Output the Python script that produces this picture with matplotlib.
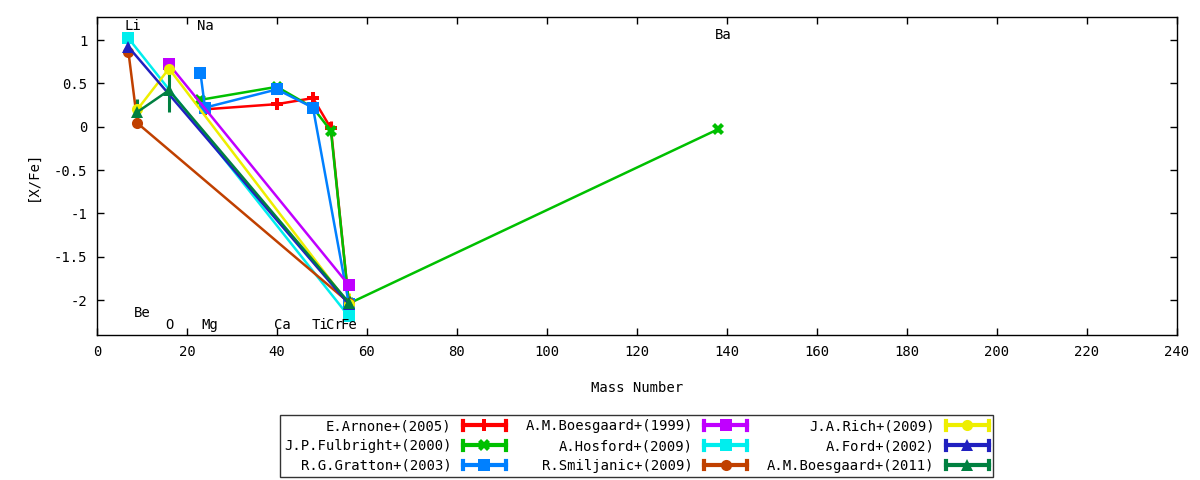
import matplotlib
matplotlib.use("Agg")
import matplotlib.pyplot as plt
from matplotlib.lines import Line2D
from matplotlib.legend_handler import HandlerBase

plt.rcParams['font.family'] = ['DejaVu Sans Mono']

# ---------------- data ----------------
labels = ["E.Arnone+(2005)", "J.P.Fulbright+(2000)", "R.G.Gratton+(2003)",
          "A.M.Boesgaard+(1999)", "A.Hosford+(2009)", "R.Smiljanic+(2009)",
          "J.A.Rich+(2009)", "A.Ford+(2002)", "A.M.Boesgaard+(2011)"]
colors = ["#ff0000", "#00c000", "#0080ff", "#c000ff", "#00eeee", "#c04000",
          "#eeee00", "#2020c0", "#008040"]
markers = ["P", "X", "s", "s", "s", "o", "o", "^", "^"]

arnone_x = [24, 40, 48, 52, 56]
arnone_y = [0.20, 0.26, 0.33, -0.02, -2.05]
arnone_e = [0.04, 0.04, 0.04, 0.08, 0.04]

fulbright_x = [23, 40, 48, 52, 56, 138]
fulbright_y = [0.31, 0.46, 0.22, -0.05, -2.04, -0.03]
fulbright_e = [0.04, 0.03, 0.03, 0.06, 0.03, 0.03]

gratton_x = [23, 24, 40, 48, 56]
gratton_y = [0.62, 0.22, 0.43, 0.22, -2.05]
gratton_e = [0.05, 0.04, 0.04, 0.04, 0.04]

boes99_x = [16, 56]
boes99_y = [0.72, -1.83]
boes99_e = [0.04, 0.03]

hosford_x = [7, 56]
hosford_y = [1.02, -2.19]
hosford_e = [0.07, 0.05]

smiljanic_x = [7, 9, 56]
smiljanic_y = [0.86, 0.04, -2.03]
smiljanic_e = [0.04, 0.04, 0.04]

rich_x = [9, 16, 56]
rich_y = [0.20, 0.67, -2.05]
rich_e = [0.05, 0.05, 0.13]

ford_x = [7, 56]
ford_y = [0.92, -2.05]
ford_e = [0.03, 0.03]

boes11_x = [9, 16, 56]
boes11_y = [0.17, 0.42, -2.03]
boes11_e = [0.15, 0.25, 0.08]

series_x = [arnone_x, fulbright_x, gratton_x, boes99_x, hosford_x,
            smiljanic_x, rich_x, ford_x, boes11_x]
series_y = [arnone_y, fulbright_y, gratton_y, boes99_y, hosford_y,
            smiljanic_y, rich_y, ford_y, boes11_y]
series_e = [arnone_e, fulbright_e, gratton_e, boes99_e, hosford_e,
            smiljanic_e, rich_e, ford_e, boes11_e]

element_names = ["Li", "Na", "Ba", "Be", "O", "Mg", "Ca", "Ti", "Cr", "Fe"]
element_lx = [6.2, 22.2, 137.3, 8.2, 15.1, 23.3, 39.3, 47.6, 50.9, 54.2]
element_ly = [1.16, 1.16, 1.06, -2.15, -2.29, -2.29, -2.29, -2.29, -2.29, -2.29]

xticks = list(range(0, 241, 20))
yticks = [1, 0.5, 0, -0.5, -1, -1.5, -2]
ytick_labels = ["1", "0.5", "0", "-0.5", "-1", "-1.5", "-2"]

# ---------------- figure ----------------
fig = plt.figure(figsize=(12, 4.8), dpi=100)
ax = fig.add_axes([0.0808, 0.302, 0.9, 0.6625])

for x, y, e, c, m in zip(series_x, series_y, series_e, colors, markers):
    ax.errorbar(x, y, yerr=e, color=c, marker=m, ms=8, lw=1.8,
                elinewidth=2.2, capsize=4, capthick=2.2, mew=0)

for name, lx, ly in zip(element_names, element_lx, element_ly):
    ax.text(lx, ly, name, ha='left', va='center', fontsize=10)

ax.set_xlim(0, 240)
ax.set_ylim(-2.404, 1.265)
ax.set_xticks(xticks)
ax.set_xticklabels([str(t) for t in xticks])
ax.set_yticks(yticks)
ax.set_yticklabels(ytick_labels)
ax.tick_params(direction='in', length=5, width=1, top=True, right=True,
               labelsize=10, pad=7)
for s in ax.spines.values():
    s.set_linewidth(1)
ax.set_xlabel("Mass Number", fontsize=10, labelpad=16)
ax.set_ylabel("[X/Fe]", fontsize=10, labelpad=10)


class GnuHandler(HandlerBase):
    def create_artists(self, legend, orig_handle, xdescent, ydescent,
                       width, height, fontsize, trans):
        y = (height - ydescent) / 2.0
        x0 = -xdescent
        x1 = -xdescent + width
        c = orig_handle.get_color()
        lw = 3
        ch = height * 0.45
        art = [
            Line2D([x0, x1], [y, y], color=c, lw=lw, transform=trans),
            Line2D([x0, x0], [y - ch, y + ch], color=c, lw=lw, transform=trans),
            Line2D([x1, x1], [y - ch, y + ch], color=c, lw=lw, transform=trans),
            Line2D([(x0 + x1) / 2], [y], color=c, ls='none',
                   marker=orig_handle.get_marker(), ms=8, mew=0,
                   transform=trans),
        ]
        return art


handles = [Line2D([], [], color=c, marker=m) for c, m in zip(colors, markers)]
leg = fig.legend(handles, labels, ncol=3, loc='upper left',
                 bbox_to_anchor=(0.2333, 0.0125, 0.5942, 0.1229),
                 mode='expand', markerfirst=False, fontsize=10,
                 handler_map={Line2D: GnuHandler()}, frameon=True,
                 fancybox=False, edgecolor='black', handlelength=3.1,
                 handletextpad=0.8, labelspacing=0.42, borderpad=0.3,
                 columnspacing=1.0, borderaxespad=0)
leg.get_frame().set_linewidth(1)

fig.savefig("out.png", dpi=100)
